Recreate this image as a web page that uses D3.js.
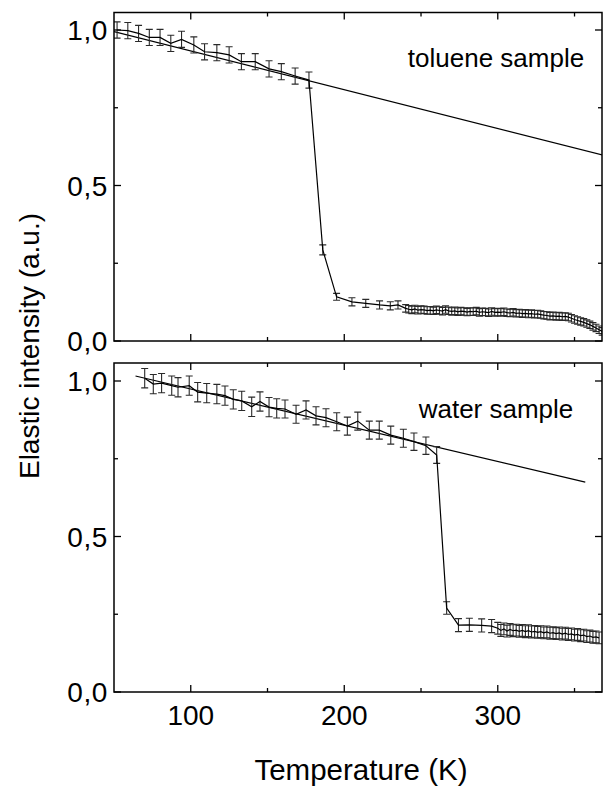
<!DOCTYPE html>
<html><head><meta charset="utf-8">
<script src="https://cdn.jsdelivr.net/npm/d3@7"></script>
<style>
html,body{margin:0;padding:0;background:#fff;}
svg text{font-family:"Liberation Sans",Arial,sans-serif;fill:#000;}
</style></head>
<body><svg id="c" width="603" height="786"></svg>
<script>
// ---- data ----
const xTicks = [100, 200, 300];
const xMinorTicks = [150, 250, 350];
const yTicks = [0, 0.5, 1.0];
const yTickLabels = ["0,0", "0,5", "1,0"];
const yMinorTicks = [0.25, 0.75];

// toluene sample
const tolT = [52,59,66,73,80,87,94,102,109,117,125,133,142,151,159,168,177,186,195,205,214,223,230,235,
  240,242,244,246,248,250,252,254,256,258,260,262,264,266,268,270,272,274,276,278,280,282,284,286,288,290,
  292,294,296,298,300,302,304,306,308,310,312,314,316,318,320,322,324,326,328,330,332,334,336,338,340,342,
  344,346,348,350,352,354,356,358,360,362,364,366,368];
const tolI = [1.0,0.998,0.989,0.976,0.976,0.957,0.970,0.952,0.930,0.927,0.920,0.898,0.898,0.875,0.866,0.852,0.839,0.293,0.142,0.126,0.121,0.116,0.113,0.116,
  0.105,0.102,0.100,0.103,0.099,0.101,0.100,0.098,0.099,0.097,0.100,0.098,0.096,0.101,0.097,0.095,0.097,0.094,0.096,0.095,0.093,0.095,0.094,0.096,0.092,0.094,
  0.093,0.091,0.095,0.092,0.093,0.092,0.094,0.091,0.090,0.092,0.089,0.090,0.088,0.089,0.087,0.088,0.086,0.087,0.085,0.083,0.082,0.080,0.081,0.079,0.080,0.078,
  0.079,0.077,0.073,0.069,0.066,0.063,0.060,0.056,0.052,0.047,0.042,0.036,0.031];
const tolErr = [0.026,0.026,0.026,0.026,0.026,0.026,0.026,0.026,0.026,0.026,0.026,0.026,0.026,0.026,0.026,0.026,0.026,0.016,0.011,0.013,0.013,0.013,0.013,0.013,
  0.012,0.012,0.012,0.012,0.012,0.012,0.012,0.012,0.012,0.012,0.012,0.012,0.012,0.012,0.012,0.012,0.012,0.012,0.012,0.012,0.012,0.012,0.012,0.012,0.012,0.012,
  0.012,0.012,0.012,0.012,0.012,0.012,0.012,0.012,0.012,0.012,0.012,0.012,0.012,0.012,0.012,0.012,0.012,0.012,0.012,0.012,0.012,0.012,0.012,0.012,0.012,0.012,
  0.012,0.012,0.012,0.012,0.012,0.012,0.012,0.012,0.012,0.012,0.012,0.012,0.012];
const tolFitT = [50, 368.5];
const tolFitI = [0.995, 0.598];

// water sample
const watT = [70,75.6,81,87.6,91.7,99,104.5,110.4,117,122.3,127.7,133.2,139.7,145.1,151,156,161.4,168.6,175.1,181.6,188.1,195.1,202,208.8,216.3,222.8,230.3,238.5,245.4,253.2,260.2,
  266.7,274.4,281.5,289.5,296,
  300,302,304,306,308,310,312,314,316,318,320,322,324,326,328,330,332,334,336,338,340,342,344,346,348,350,352,354,356,358,360,362,364,366];
const watI = [1.009,0.990,0.993,0.985,0.980,0.985,0.964,0.961,0.958,0.953,0.941,0.936,0.917,0.934,0.916,0.912,0.910,0.893,0.907,0.888,0.882,0.869,0.855,0.871,0.842,0.842,0.826,0.816,0.805,0.792,0.762,
  0.270,0.215,0.216,0.214,0.212,
  0.205,0.198,0.203,0.196,0.201,0.197,0.199,0.195,0.198,0.194,0.197,0.193,0.195,0.192,0.194,0.190,0.193,0.189,0.191,0.188,0.190,0.186,0.189,0.185,0.187,0.183,0.185,0.181,0.183,0.178,0.180,0.176,0.177,0.174];
const watErr = [0.031,0.031,0.031,0.031,0.031,0.031,0.031,0.031,0.031,0.031,0.031,0.031,0.031,0.031,0.031,0.031,0.029,0.029,0.029,0.029,0.029,0.029,0.029,0.029,0.029,0.029,0.029,0.029,0.028,0.028,0.027,
  0.020,0.021,0.021,0.021,0.021,
  0.019,0.019,0.019,0.019,0.019,0.019,0.019,0.019,0.019,0.019,0.019,0.019,0.019,0.019,0.019,0.019,0.019,0.019,0.019,0.019,0.019,0.019,0.019,0.019,0.019,0.019,0.019,0.019,0.019,0.019,0.019,0.019,0.019,0.019];
const watFitT = [64, 357];
const watFitI = [1.016, 0.675];

const panelLabels = ["toluene sample", "water sample"];

// ---- drawing ----
const svg = d3.select("#c");
const left = 114, right = 602;
const x = d3.scaleLinear().domain([50, 367.9]).range([left, right]);

const panels = [
  {T: tolT, I: tolI, E: tolErr, fT: tolFitT, fI: tolFitI, top: 12.5, bottom: 341, label: panelLabels[0], lx: 496, ly: 67, showX: false},
  {T: watT, I: watI, E: watErr, fT: watFitT, fI: watFitI, top: 363, bottom: 692, label: panelLabels[1], lx: 496, ly: 418, showX: true}
];

panels.forEach(p => {
  const y = d3.scaleLinear().domain([0, (p.bottom - p.top) / 311]).range([p.bottom, p.top]);
  const g = svg.append("g");
  const clipId = "clip" + Math.round(p.top);
  svg.append("clipPath").attr("id", clipId).append("rect")
    .attr("x", left).attr("y", p.top).attr("width", right - left).attr("height", p.bottom - p.top);
  const dg = g.append("g").attr("clip-path", `url(#${clipId})`);

  // fit line
  dg.append("path")
    .attr("d", d3.line()([[x(p.fT[0]), y(p.fI[0])], [x(p.fT[1]), y(p.fI[1])]]))
    .attr("stroke", "#000").attr("stroke-width", 1.2).attr("fill", "none");

  // error bars
  const cap = 3.5;
  const eb = dg.append("g").attr("stroke", "#2a2a2a").attr("stroke-width", 1.1).attr("fill", "none");
  p.T.forEach((t, i) => {
    const cx = x(t), y1 = y(p.I[i] + p.E[i]), y2 = y(p.I[i] - p.E[i]);
    eb.append("path").attr("d", `M${cx},${y1}V${y2}M${cx - cap},${y1}H${cx + cap}M${cx - cap},${y2}H${cx + cap}`);
  });

  // data line
  dg.append("path")
    .datum(p.T.map((t, i) => [t, p.I[i]]))
    .attr("d", d3.line().x(d => x(d[0])).y(d => y(d[1])))
    .attr("stroke", "#000").attr("stroke-width", 1.2).attr("fill", "none");

  // frame
  g.append("rect").attr("x", left).attr("y", p.top).attr("width", right - left).attr("height", p.bottom - p.top)
    .attr("fill", "none").attr("stroke", "#000").attr("stroke-width", 1.5);

  // ticks (inward on all four sides)
  const tk = g.append("g").attr("stroke", "#000").attr("stroke-width", 1.3);
  xTicks.forEach(v => {
    tk.append("line").attr("x1", x(v)).attr("x2", x(v)).attr("y1", p.bottom).attr("y2", p.bottom - 7);
    tk.append("line").attr("x1", x(v)).attr("x2", x(v)).attr("y1", p.top).attr("y2", p.top + 7);
  });
  xMinorTicks.forEach(v => {
    tk.append("line").attr("x1", x(v)).attr("x2", x(v)).attr("y1", p.bottom).attr("y2", p.bottom - 4);
    tk.append("line").attr("x1", x(v)).attr("x2", x(v)).attr("y1", p.top).attr("y2", p.top + 4);
  });
  yTicks.forEach(v => {
    tk.append("line").attr("x1", left).attr("x2", left + 7).attr("y1", y(v)).attr("y2", y(v));
    tk.append("line").attr("x1", right).attr("x2", right - 7).attr("y1", y(v)).attr("y2", y(v));
  });
  yMinorTicks.forEach(v => {
    tk.append("line").attr("x1", left).attr("x2", left + 4).attr("y1", y(v)).attr("y2", y(v));
    tk.append("line").attr("x1", right).attr("x2", right - 4).attr("y1", y(v)).attr("y2", y(v));
  });

  // y tick labels
  yTicks.forEach((v, i) => {
    g.append("text").attr("x", 108).attr("y", y(v) + 10).attr("text-anchor", "end")
      .attr("font-size", 28).attr("letter-spacing", 0.6).text(yTickLabels[i]);
  });

  if (p.showX) {
    xTicks.forEach(v => {
      g.append("text").attr("x", x(v)).attr("y", 725).attr("text-anchor", "middle")
        .attr("font-size", 28).text(String(v));
    });
  }

  g.append("text").attr("x", p.lx).attr("y", p.ly).attr("text-anchor", "middle")
    .attr("font-size", 26).text(p.label);
});

svg.append("text").attr("x", 361).attr("y", 780).attr("text-anchor", "middle")
  .attr("font-size", 29.5).text("Temperature (K)");
svg.append("text").attr("transform", "translate(39,346) rotate(-90)").attr("text-anchor", "middle")
  .attr("font-size", 28).text("Elastic intensity (a.u.)");
</script></body></html>
